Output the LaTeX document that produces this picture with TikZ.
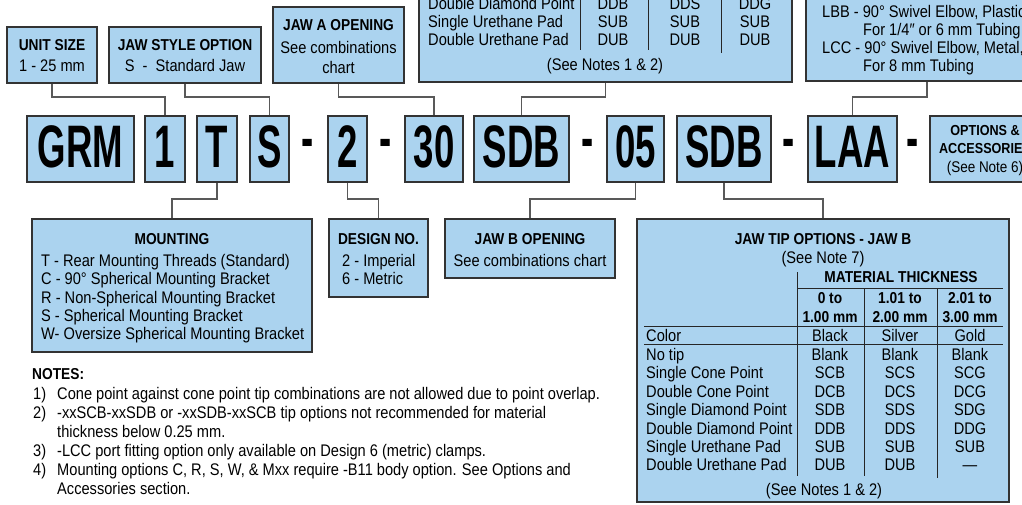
\documentclass[tikz,border=0pt]{standalone}
\usepackage{fontspec}
\setmainfont{Liberation Sans}[FakeStretch=0.87]
\newfontfamily\bigf{Liberation Sans}[FakeStretch=0.61]
\definecolor{boxblue}{RGB}{171,211,239}
\begin{document}
\begin{tikzpicture}[x=1pt,y=-1pt,
  box/.style={draw=black!80,line width=1.3pt,fill=boxblue,inner sep=0pt},
  codebox/.style={box,minimum height=66pt},
  conn/.style={draw=black!65,line width=1.1pt},
  rule/.style={draw=black!85,line width=1pt},
  tx/.style={font=\fontsize{16.8}{19}\selectfont,inner sep=0pt,anchor=base,yshift=-6pt},
  tl/.style={tx,anchor=base west},
  ttl/.style={font=\fontsize{15.8}{18}\selectfont\bfseries,inner sep=0pt,anchor=base,yshift=-5.7pt},
  sttl/.style={font=\fontsize{14.5}{17}\selectfont\bfseries,inner sep=0pt,anchor=base,yshift=-5.2pt},
  code/.style={font=\bigf\fontsize{60}{60}\selectfont\bfseries,inner sep=0pt,anchor=base}]
\useasboundingbox (0,0) rectangle (1022,504);
\clip (0,0) rectangle (1022,504);
\fill[white] (0,0) rectangle (1022,504);
\coordinate (hy) at (0,97);
\coordinate (ly) at (0,199);

% ---------- top boxes ----------
\node[box,minimum width=90pt,minimum height=56pt] (unit) at (52,55) {};
\node[ttl] (unitT) at (52,45) {UNIT SIZE};
\node[tx] (unitA) at (52,65) {1 - 25 mm};

\node[box,minimum width=152pt,minimum height=56pt] (style) at (185,55) {};
\node[ttl] (styleT) at (185,45) {JAW STYLE OPTION};
\node[tx] (styleA) at (185,65) {S\ \ -\ \ Standard Jaw};

\node[box,minimum width=131pt,minimum height=76pt] (jawa) at (338.5,45) {};
\node[ttl] (jawaT) at (338.5,25) {JAW A OPENING};
\node[tx] (jawaA) at (338.5,47) {See combinations};
\node[tx] (jawaB) at (338.5,67) {chart};

\node[box,minimum width=373pt,minimum height=282pt] (combo) at (605.5,-59) {};
\draw[rule] (580,-200) -- (580,50);
\draw[rule] (648,-200) -- (648,50);
\draw[rule] (721,-200) -- (721,53);
\foreach \y/\lab/\a/\b/\c [count=\i] in {3/Double Diamond Point/DDB/DDS/DDG,
  21/Single Urethane Pad/SUB/SUB/SUB, 39/Double Urethane Pad/DUB/DUB/DUB}{
  \node[tl] (cl\i) at (428,\y) {\lab};
  \node[tx] (ca\i) at (613,\y) {\a};
  \node[tx] (cb\i) at (685,\y) {\b};
  \node[tx] (cc\i) at (755,\y) {\c};
}
\node[tx] (comboN) at (605,64) {(See Notes 1 \& 2)};

\node[box,minimum width=242pt,minimum height=231pt] (port) at (927,-34.5) {};
\node[tl] (portA) at (822,11) {LBB - 90° Swivel Elbow, Plastic};
\node[tl] (portB) at (863,29) {For 1/4″ or 6 mm Tubing};
\node[tl] (portC) at (822,47) {LCC - 90° Swivel Elbow, Metal,};
\node[tl] (portD) at (863,65) {For 8 mm Tubing};

% ---------- code row ----------
\node[codebox,minimum width=107pt] (grm) at (80.5,149) {};
\node[code] (tgrm) at (80.5,167) {GRM};
\node[codebox,minimum width=40pt] (c1) at (165,149) {};
\node[code] (tc1) at (165,167) {1};
\node[codebox,minimum width=40pt] (cT) at (217,149) {};
\node[code] (tcT) at (217,167) {T};
\node[codebox,minimum width=39pt] (cS) at (269.5,149) {};
\node[code] (tcS) at (269.5,167) {S};
\node[code] (d1) at (308,158) {-};
\node[codebox,minimum width=39pt] (c2) at (347.5,149) {};
\node[code] (tc2) at (347.5,167) {2};
\node[code] (d2) at (386,158) {-};
\node[codebox,minimum width=58pt] (c30) at (434,149) {};
\node[code] (tc30) at (434,167) {30};
\node[codebox,minimum width=95pt] (sdba) at (521.5,149) {};
\node[code] (tsdba) at (521.5,167) {SDB};
\node[code] (d3) at (588,158) {-};
\node[codebox,minimum width=57pt] (c05) at (635.5,149) {};
\node[code] (tc05) at (635.5,167) {05};
\node[codebox,minimum width=94pt] (sdbb) at (724,149) {};
\node[code] (tsdbb) at (724,167) {SDB};
\node[code] (d4) at (789,158) {-};
\node[codebox,minimum width=89pt] (laa) at (852.5,149) {};
\node[code] (tlaa) at (852.5,167) {LAA};
\node[code] (d5) at (913,158) {-};
\node[codebox,minimum width=110pt] (opts) at (985,149) {};
\node[sttl] (optsA) at (985,130) {OPTIONS \&};
\node[sttl] (optsB) at (985,148) {ACCESSORIES};
\node[tx,font=\fontsize{15.5}{17}\selectfont,yshift=0.5pt] (optsC) at (985,167) {(See Note 6)};

% ---------- lower boxes ----------
\node[box,minimum width=280pt,minimum height=133pt] (mount) at (172,285.5) {};
\node[ttl] (mountT) at (172,239) {MOUNTING};
\node[tl] (m1) at (41,260) {T - Rear Mounting Threads (Standard)};
\node[tl] (m2) at (41,278) {C - 90° Spherical Mounting Bracket};
\node[tl] (m3) at (41,297) {R - Non-Spherical Mounting Bracket};
\node[tl] (m4) at (41,315) {S - Spherical Mounting Bracket};
\node[tl] (m5) at (41,333) {W- Oversize Spherical Mounting Bracket};

\node[box,minimum width=99pt,minimum height=78pt] (design) at (378.5,258) {};
\node[ttl] (designT) at (378.5,239) {DESIGN NO.};
\node[tl] (des1) at (342,260) {2 - Imperial};
\node[tl] (des2) at (342,278) {6 - Metric};

\node[box,minimum width=170pt,minimum height=59pt] (jawb) at (530,248.5) {};
\node[ttl] (jawbT) at (530,239) {JAW B OPENING};
\node[tx] (jawbA) at (530,260) {See combinations chart};

\node[box,minimum width=372pt,minimum height=283pt] (tips) at (823,360.5) {};
\node[ttl] (tipsT) at (823,239) {JAW TIP OPTIONS - JAW B};
\node[tx] (tipsN) at (823,257) {(See Note 7)};
\node[ttl] (matT) at (901,277) {MATERIAL THICKNESS};
\draw[rule] (797,272) -- (797,476);
\draw[rule] (797,288) -- (1003,288);
\draw[rule] (864,288) -- (864,476);
\draw[rule] (937,288) -- (937,478);
\draw[rule] (644,326) -- (1003,326);
\draw[rule] (644,344) -- (1003,344);
\node[ttl] (h1a) at (830,298) {0 to};
\node[ttl] (h1b) at (830,317) {1.00 mm};
\node[ttl] (h2a) at (900,298) {1.01 to};
\node[ttl] (h2b) at (900,317) {2.00 mm};
\node[ttl] (h3a) at (970,298) {2.01 to};
\node[ttl] (h3b) at (970,317) {3.00 mm};
\foreach \y/\lab/\a/\b/\c [count=\i] in {335/Color/Black/Silver/Gold,
  354/No tip/Blank/Blank/Blank, 372/Single Cone Point/SCB/SCS/SCG,
  391/Double Cone Point/DCB/DCS/DCG, 409/Single Diamond Point/SDB/SDS/SDG,
  428/Double Diamond Point/DDB/DDS/DDG, 446/Single Urethane Pad/SUB/SUB/SUB,
  464/Double Urethane Pad/DUB/DUB/—}{
  \node[tl] (tl\i) at (646,\y) {\lab};
  \node[tx] (ta\i) at (830,\y) {\a};
  \node[tx] (tb\i) at (900,\y) {\b};
  \node[tx] (tc\i) at (970,\y) {\c};
}
\node[tx] (tipsNN) at (824,489) {(See Notes 1 \& 2)};

% ---------- notes ----------
\node[ttl,anchor=base west] (notes) at (32,374) {NOTES:};
\node[tl] (n1) at (33,393) {1)};
\node[tl] (n1t) at (57,393) {Cone point against cone point tip combinations are not allowed due to point overlap.};
\node[tl] (n2) at (33,412) {2)};
\node[tl] (n2t) at (57,412) {-xxSCB-xxSDB or -xxSDB-xxSCB tip options not recommended for material};
\node[tl] (n2u) at (57,431) {thickness below 0.25 mm.};
\node[tl] (n3) at (33,450) {3)};
\node[tl] (n3t) at (57,450) {-LCC port fitting option only available on Design 6 (metric) clamps.};
\node[tl] (n4) at (33,469) {4)};
\node[tl] (n4t) at (57,469) {Mounting options C, R, S, W, \& Mxx require -B11 body option. See Options and};
\node[tl] (n4u) at (57,488) {Accessories section.};

% ---------- connectors ----------
\draw[conn] (unit.south) |- (c1.north |- hy) -- (c1.north);
\draw[conn] (style.south) |- (cS.north |- hy) -- (cS.north);
\draw[conn] (jawa.south) |- (c30.north |- hy) -- (c30.north);
\draw[conn] (combo.south) |- (sdba.north |- hy) -- (sdba.north);
\draw[conn] (port.south) |- (laa.north |- hy) -- (laa.north);
\draw[conn] (cT.south) |- (mount.north |- ly) -- (mount.north);
\draw[conn] (c2.south) |- (design.north |- ly) -- (design.north);
\draw[conn] (c05.south) |- (jawb.north |- ly) -- (jawb.north);
\draw[conn] (sdbb.south) |- (tips.north |- ly) -- (tips.north);
\end{tikzpicture}
\end{document}
